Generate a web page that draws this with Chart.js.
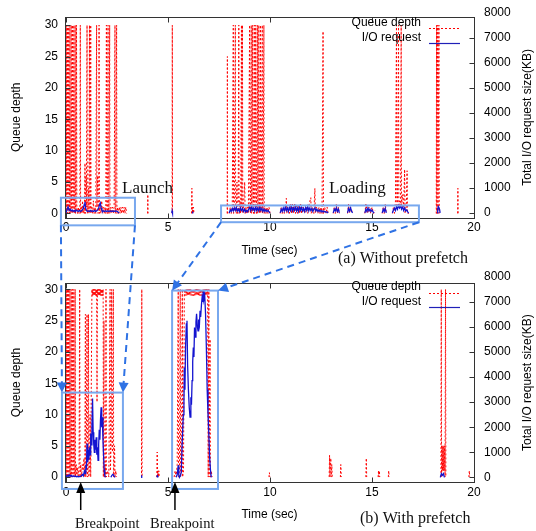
<!DOCTYPE html>
<html><head><meta charset="utf-8">
<script src="https://cdn.jsdelivr.net/npm/chart.js@4.4.1/dist/chart.umd.min.js"></script>
<style>
html,body{margin:0;padding:0;background:#fff;}
#wrap{position:relative;width:536px;height:531px;background:#fff;}
#c1{position:absolute;left:0;top:0;}
#c2{position:absolute;left:0;top:266px;}
#ov{position:absolute;left:0;top:0;pointer-events:none;}
</style></head><body>
<div id="wrap">
<canvas id="c1" width="536" height="266"></canvas>
<canvas id="c2" width="536" height="265"></canvas>
<canvas id="ov" width="536" height="531"></canvas>
</div>
<script>
// ---------- tick labels ----------
const timeTicks = [0, 5, 10, 15, 20];
const depthTicks = [0, 5, 10, 15, 20, 25, 30];
const sizeTicks = [0, 1000, 2000, 3000, 4000, 5000, 6000, 7000, 8000];
const seriesNames = ['Queue depth', 'I/O request'];

// ---------- (a) Without prefetch : [time(sec), queue depth] ----------
const queueDepthA = [
 [0.000,0],[0.015,30],[0.030,1],[0.055,0],[0.070,30],[0.085,0],[0.110,1],[0.130,30],[0.145,1],[0.170,0],[0.190,30],[0.205,0],[0.230,1],[0.255,30],[0.270,1],[0.295,0],[0.320,30],[0.335,0],[0.360,1],[0.385,30],[0.400,1],[0.425,0],[0.450,30],[0.465,0],[0.490,1],[0.515,30],[0.530,1],[0.56,0],[0.60,1],[0.64,0],[0.68,1],[0.700,30],[0.715,0],[0.75,1],[0.78,0],[0.81,2],[0.84,0],[0.87,1],[0.90,0],[0.93,8],[0.95,0],[0.98,6],[1.00,1],[1.030,30],[1.045,0],[1.07,1],[1.10,4],[1.12,0],[1.150,30],[1.165,1],[1.19,0],[1.210,30],[1.225,0],[1.26,1],[1.30,0],[1.34,2],[1.38,0],[1.42,1],[1.46,0],[1.500,30],[1.515,1],[1.55,6],[1.57,0],[1.60,1],[1.620,30],[1.635,0],[1.67,1],[1.71,0],[1.75,2],[1.79,0],[1.83,1],[1.87,0],[1.91,1],[1.95,0],[1.980,30],[1.995,1],[2.03,0],[2.060,30],[2.075,1],[2.10,0],[2.140,30],[2.155,0],[2.20,1],[2.24,0],[2.28,1],[2.32,0],[2.36,1],[2.400,30],[2.415,0],[2.44,1],[2.480,30],[2.495,0],[2.53,1],[2.57,0],[2.61,1],[2.65,0],[2.69,1],[2.73,0],[2.77,1],[2.81,0],[2.85,1],[2.89,0],[2.93,1],[2.97,0],[2.98,null],
 [4.00,0],[4.01,3],[4.02,0],[4.03,null],
 [5.20,0],[5.21,30],[5.22,0],[5.23,null],
 [6.15,0],[6.17,4],[6.19,0],[6.21,1],[6.23,0],[6.25,1],[6.27,0],[6.28,null],
 [7.90,0],[7.91,25],[7.92,0],[7.93,null],
 [8.00,0],[8.05,1],[8.10,0],[8.15,1],[8.200,30],[8.215,0],[8.25,1],[8.300,30],[8.315,1],[8.35,0],[8.38,5],[8.40,0],[8.44,1],[8.470,30],[8.485,0],[8.52,2],[8.56,0],[8.600,30],[8.615,1],[8.650,30],[8.665,0],[8.70,1],[8.76,5],[8.78,0],[8.82,1],[8.86,0],[8.90,1],[8.94,0],[9.000,30],[9.015,1],[9.04,0],[9.080,30],[9.095,0],[9.12,1],[9.150,30],[9.165,1],[9.19,0],[9.230,30],[9.245,0],[9.27,1],[9.300,30],[9.315,1],[9.34,0],[9.380,30],[9.395,0],[9.42,1],[9.450,30],[9.465,1],[9.49,0],[9.530,30],[9.545,0],[9.57,1],[9.620,30],[9.635,0],[9.66,1],[9.700,30],[9.715,0],[9.75,1],[9.80,0],[9.85,1],[9.90,0],[9.95,1],[10.00,0],[10.01,null],
 [10.50,0],[10.55,1],[10.60,0],[10.65,1],[10.70,0],[10.78,1],[10.80,2.4],[10.82,0],[10.88,1],[10.95,0],[11.00,1.5],[11.05,0],[11.10,1.5],[11.15,0],[11.20,1.5],[11.25,0],[11.30,1.5],[11.35,0],[11.40,1.2],[11.45,0],[11.50,1.5],[11.55,0],[11.62,1],[11.70,0],[11.78,1],[11.85,0],[11.92,1.5],[12.00,2.5],[12.02,0],[12.08,1],[12.15,0],[12.20,4],[12.22,0],[12.28,1],[12.35,0],[12.40,1],[12.45,0],[12.50,1],[12.55,0],[12.60,29],[12.62,0],[12.68,1],[12.75,0],[12.80,1],[12.85,0],[12.86,null],
 [13.10,0],[13.15,1],[13.20,0],[13.25,1.5],[13.30,0],[13.35,1],[13.40,0],[13.41,null],
 [13.80,0],[13.85,1.5],[13.90,0],[13.95,1],[14.05,0],[14.06,null],
 [14.65,0],[14.70,1.5],[14.78,0],[14.85,1],[14.92,0],[15.00,1],[15.08,0],[15.15,0.5],[15.16,null],
 [15.50,0],[15.55,1],[15.60,0],[15.65,1.5],[15.70,0],[15.71,null],
 [16.00,0],[16.05,1],[16.10,0],[16.15,2],[16.200,30],[16.215,1],[16.25,2],[16.300,30],[16.315,1],[16.35,2],[16.40,1],[16.430,30],[16.445,1],[16.50,3],[16.55,1],[16.60,7],[16.62,0],[16.68,1],[16.72,6.8],[16.74,0],[16.80,0],[16.81,null],
 [18.150,0],[18.165,30],[18.180,0],[18.220,30],[18.235,0],[18.280,30],[18.295,0],[18.30,null],
 [19.20,0],[19.21,4],[19.22,0]
];
// (a) Without prefetch : [time(sec), total I/O request size (KB)]
const ioSizeA = [
 [0.00,0],[0.05,150],[0.10,250],[0.15,100],[0.20,150],[0.25,80],[0.30,120],[0.35,60],[0.40,100],[0.45,50],[0.50,120],[0.55,80],[0.60,60],[0.65,100],[0.70,60],[0.75,80],[0.80,120],[0.85,200],[0.90,350],[0.93,450],[0.96,200],[1.00,100],[1.05,60],[1.10,80],[1.15,60],[1.20,100],[1.25,60],[1.30,80],[1.35,60],[1.40,100],[1.45,60],[1.50,80],[1.55,120],[1.60,200],[1.65,350],[1.68,400],[1.72,200],[1.76,100],[1.80,60],[1.85,80],[1.90,60],[1.95,80],[2.00,60],[2.05,80],[2.10,60],[2.15,80],[2.20,60],[2.25,80],[2.30,60],[2.35,80],[2.40,60],[2.45,80],[2.50,60],[2.55,40],[2.60,0],[2.61,null],
 [5.18,0],[5.20,80],[5.22,0],[5.23,null],
 [6.18,0],[6.20,60],[6.22,0],[6.23,null],
 [8.00,0],[8.05,120],[8.10,60],[8.15,180],[8.20,80],[8.25,200],[8.30,100],[8.35,220],[8.40,80],[8.45,160],[8.50,60],[8.55,200],[8.60,100],[8.65,180],[8.70,60],[8.75,150],[8.80,40],[8.85,100],[8.90,40],[8.95,150],[9.00,220],[9.05,100],[9.10,250],[9.15,120],[9.20,200],[9.25,80],[9.30,240],[9.35,100],[9.40,200],[9.45,80],[9.50,220],[9.55,100],[9.60,180],[9.65,60],[9.70,150],[9.75,60],[9.80,120],[9.85,50],[9.90,100],[9.95,40],[10.00,0],[10.01,null],
 [10.50,0],[10.55,150],[10.60,60],[10.65,200],[10.70,80],[10.75,250],[10.80,100],[10.85,200],[10.90,60],[10.95,220],[11.00,100],[11.05,250],[11.10,80],[11.15,200],[11.20,100],[11.25,260],[11.30,80],[11.35,200],[11.40,60],[11.45,240],[11.50,100],[11.55,220],[11.60,80],[11.65,180],[11.70,60],[11.75,220],[11.80,100],[11.85,250],[11.90,80],[11.95,200],[12.00,100],[12.05,180],[12.10,60],[12.15,150],[12.20,200],[12.25,80],[12.30,150],[12.35,60],[12.40,120],[12.45,50],[12.50,100],[12.55,40],[12.60,80],[12.65,40],[12.70,60],[12.75,30],[12.80,40],[12.85,0],[12.86,null],
 [13.10,0],[13.15,150],[13.20,80],[13.25,200],[13.30,60],[13.35,150],[13.40,0],[13.41,null],
 [13.80,0],[13.85,180],[13.90,80],[13.95,200],[14.00,60],[14.05,0],[14.06,null],
 [14.65,0],[14.70,150],[14.75,60],[14.80,200],[14.85,80],[14.90,150],[14.95,60],[15.00,120],[15.05,40],[15.10,0],[15.11,null],
 [15.50,0],[15.55,150],[15.60,60],[15.65,180],[15.70,0],[15.71,null],
 [16.00,0],[16.05,120],[16.10,200],[16.15,100],[16.20,250],[16.25,150],[16.30,300],[16.35,200],[16.40,280],[16.45,150],[16.50,250],[16.55,100],[16.60,200],[16.65,80],[16.70,120],[16.75,40],[16.80,0],[16.81,null],
 [18.20,0],[18.22,150],[18.25,250],[18.28,200],[18.31,150],[18.34,0]
];

// ---------- (b) With prefetch : [time(sec), queue depth] ----------
const queueDepthB = [
 [0.000,0],[0.015,30],[0.030,0],[0.055,1],[0.070,30],[0.085,0],[0.110,1],[0.130,30],[0.145,0],[0.170,1],[0.190,30],[0.205,0],[0.230,1],[0.255,30],[0.270,0],[0.295,1],[0.320,30],[0.335,0],[0.360,1],[0.385,30],[0.400,0],[0.425,1],[0.450,30],[0.465,0],[0.50,2],[0.53,0],[0.56,1.5],[0.60,0],[0.64,2],[0.670,30],[0.685,0],[0.72,2],[0.76,0],[0.80,2],[0.84,1],[0.88,3],[0.92,0],[0.950,26],[0.965,0],[0.99,1],[1.030,26],[1.045,0],[1.07,1],[1.100,26],[1.115,0],[1.15,1],[1.18,10],[1.21,0],[1.270,30],[1.29,29],[1.31,30],[1.33,29],[1.35,30],[1.37,29],[1.39,30],[1.41,29],[1.43,30],[1.45,29],[1.47,30],[1.49,29],[1.50,30],[1.52,12],[1.54,30],[1.56,29],[1.58,30],[1.60,29],[1.62,30],[1.64,29],[1.66,30],[1.68,29],[1.70,30],[1.72,29],[1.74,30],[1.76,29],[1.78,30],[1.80,29],[1.82,30],[1.83,0],[1.86,25],[1.88,0],[1.92,2],[1.94,0],[1.960,30],[1.975,0],[2.04,1],[2.10,0],[2.160,30],[2.175,1],[2.20,4],[2.240,30],[2.255,5],[2.28,4],[2.320,30],[2.335,0],[2.38,5],[2.40,0],[2.44,1],[2.48,0],[2.49,null],
 [3.70,0],[3.715,30],[3.73,0],[3.74,null],
 [4.45,0],[4.47,4],[4.49,0],[4.51,1],[4.53,0],[4.55,1],[4.57,0],[4.58,null],
 [5.30,0],[5.35,1],[5.40,0],[5.45,2],[5.500,30],[5.515,0],[5.56,1],[5.600,30],[5.615,0],[5.66,1],[5.700,30],[5.715,0],[5.76,1],[5.800,30],[5.83,29],[5.86,30],[5.89,29],[5.92,30],[5.95,29],[5.98,30],[6.01,29],[6.04,30],[6.07,29],[6.10,30],[6.13,29],[6.16,30],[6.19,29],[6.22,30],[6.25,29],[6.28,30],[6.31,29],[6.34,30],[6.37,29],[6.40,30],[6.43,29],[6.46,30],[6.49,29],[6.52,30],[6.55,29],[6.58,30],[6.61,29],[6.64,30],[6.67,29],[6.70,30],[6.73,29],[6.76,30],[6.79,29],[6.82,30],[6.85,29],[6.88,30],[6.91,29],[6.94,30],[6.97,0],[7.000,30],[7.015,0],[7.06,22],[7.08,0],[7.12,1],[7.16,0],[7.17,null],
 [7.43,0],[7.45,2],[7.47,0],[7.48,null],
 [9.95,0],[9.97,0.7],[9.99,0],[10.00,null],
 [12.90,0],[12.92,3.5],[12.94,0],[12.98,3],[13.00,0],[13.03,2],[13.05,0],[13.06,null],
 [13.45,0],[13.47,2],[13.49,0],[13.50,null],
 [14.70,0],[14.72,3],[14.74,0],[14.75,null],
 [15.30,0],[15.32,1],[15.34,0],[15.36,1],[15.38,0],[15.39,null],
 [15.80,0],[15.82,1],[15.84,0],[15.85,null],
 [18.38,0],[18.395,30],[18.41,0],[18.44,5],[18.46,1],[18.48,5],[18.50,1],[18.52,5],[18.54,1],[18.56,5],[18.58,0],[18.605,30],[18.62,0],[18.63,null],
 [19.75,0],[19.77,1],[19.79,0]
];
// (b) With prefetch : [time(sec), total I/O request size (KB)]
const ioSizeB = [
 [0.00,0],[0.05,80],[0.10,30],[0.15,100],[0.20,40],[0.25,80],[0.30,30],[0.35,60],[0.40,30],[0.45,50],[0.50,20],[0.55,40],[0.60,20],[0.65,40],[0.70,30],[0.75,60],[0.80,120],[0.85,60],[0.90,250],[0.94,150],[0.97,500],[1.00,300],[1.03,1350],[1.06,600],[1.09,1100],[1.12,700],[1.15,1200],[1.18,900],[1.21,1750],[1.24,1300],[1.27,2000],[1.30,3150],[1.33,1800],[1.36,1300],[1.39,1000],[1.42,1500],[1.45,1100],[1.48,1600],[1.51,900],[1.54,1200],[1.57,680],[1.60,1300],[1.63,1900],[1.66,1500],[1.69,2300],[1.72,2800],[1.75,2000],[1.78,2400],[1.81,1500],[1.84,900],[1.87,300],[1.90,80],[1.93,0],[1.94,null],
 [2.20,0],[2.25,80],[2.30,120],[2.35,60],[2.40,0],[2.41,null],
 [3.68,0],[3.70,80],[3.72,0],[3.73,null],
 [4.45,0],[4.48,60],[4.52,0],[4.53,null],
 [5.40,0],[5.45,100],[5.50,480],[5.53,100],[5.56,0],[5.60,50],[5.65,200],[5.70,1500],[5.75,2500],[5.78,3000],[5.80,4380],[5.83,3500],[5.86,5200],[5.90,6130],[5.93,6250],[5.96,4500],[6.00,3500],[6.04,2800],[6.08,2400],[6.12,3200],[6.15,2900],[6.18,3860],[6.21,4600],[6.24,5180],[6.27,4800],[6.30,5980],[6.33,5600],[6.37,6200],[6.40,6530],[6.44,6000],[6.47,5850],[6.50,6300],[6.54,6100],[6.57,6650],[6.60,6400],[6.64,6900],[6.67,7170],[6.70,7000],[6.73,7450],[6.76,7100],[6.80,7250],[6.84,6530],[6.88,5180],[6.92,3500],[6.96,2550],[7.00,1750],[7.04,800],[7.08,300],[7.12,0],[7.13,null],
 [18.35,0],[18.40,150],[18.45,80],[18.50,150],[18.55,0]
];

// ---------- layout / style settings (not data) ----------
const FONT = '"Liberation Sans", Arial, sans-serif';
const SERIF = '"Liberation Serif", "Times New Roman", serif';
const panels = [
 {yMin:-0.65, yMax:31.27, y2Min:-183, y2Max:7837, xHeight:48.5, xTitleY:251, leg:[23,28,38,43]},
 {yMin:-0.79, yMax:30.98, y2Min:-187, y2Max:7750, xHeight:49, xTitleY:249, leg:[21,27,36,41]}
];

const decor = {
 id:'panelDecor',
 afterDraw(chart, args, p) {
  const {ctx, chartArea:a, scales} = chart;
  ctx.save();
  ctx.setLineDash([]);
  ctx.strokeStyle = '#333'; ctx.lineWidth = 1;
  const L = Math.round(a.left)+0.5, R = Math.round(a.right)+0.5, T = Math.round(a.top)+0.5, B = Math.round(a.bottom)+0.5;
  ctx.strokeRect(L, T, R-L, B-T);
  ctx.beginPath();
  timeTicks.forEach(v => { const x = Math.round(scales.x.getPixelForValue(v))+0.5; ctx.moveTo(x,B); ctx.lineTo(x,B-5); ctx.moveTo(x,T); ctx.lineTo(x,T+5); });
  depthTicks.forEach(v => { const y = Math.round(scales.y.getPixelForValue(v))+0.5; ctx.moveTo(L,y); ctx.lineTo(L+5,y); });
  sizeTicks.forEach(v => { if (v > scales.y2.max) return; const y = Math.round(scales.y2.getPixelForValue(v))+0.5; ctx.moveTo(R,y); ctx.lineTo(R-5,y); });
  ctx.stroke();
  ctx.fillStyle = '#000'; ctx.font = '12px ' + FONT; ctx.textAlign = 'center'; ctx.textBaseline = 'middle';
  ctx.fillText('Time (sec)', (a.left+a.right)/2, p.xTitleY);
  const cy = (a.top+a.bottom)/2;
  ctx.save(); ctx.translate(17, cy); ctx.rotate(-Math.PI/2); ctx.fillText('Queue depth', 0, 0); ctx.restore();
  ctx.save(); ctx.translate(527.5, cy); ctx.rotate(-Math.PI/2); ctx.fillText('Total I/O request size(KB)', 0, 0); ctx.restore();
  const lg = p.leg;
  ctx.textAlign = 'right';
  ctx.fillText(seriesNames[0], 421, lg[0]);
  ctx.fillText(seriesNames[1], 421, lg[2]);
  ctx.lineWidth = 1; ctx.strokeStyle = '#ff0000'; ctx.setLineDash([2,2]);
  ctx.beginPath(); ctx.moveTo(429, lg[1]+0.5); ctx.lineTo(460, lg[1]+0.5); ctx.stroke();
  ctx.setLineDash([]); ctx.strokeStyle = '#2020b8'; ctx.lineWidth = 1.2;
  ctx.beginPath(); ctx.moveTo(429, lg[3]+0.5); ctx.lineTo(460, lg[3]+0.5); ctx.stroke();
  ctx.restore();
 }
};

function axisTicks(list) { return s => { s.ticks = list.map(v => ({value:v})); }; }
const tickFont = {family: FONT, size: 12};

function makeChart(id, qd, io, p) {
 return new Chart(document.getElementById(id), {
  type: 'line',
  data: { datasets: [
   {label: seriesNames[0], data: qd, yAxisID: 'y', borderColor: '#ff0000', borderWidth: 1, borderDash: [2,2], pointRadius: 0, tension: 0, spanGaps: false, order: 2},
   {label: seriesNames[1], data: io, yAxisID: 'y2', borderColor: '#1414d0', borderWidth: 1.3, pointRadius: 0, tension: 0, spanGaps: false, order: 1}
  ]},
  options: {
   responsive: false, animation: false, events: [],
   layout: {padding: {top: 16, left: 0, right: 0, bottom: 0}},
   plugins: {legend: {display: false}, tooltip: {enabled: false}, panelDecor: p},
   scales: {
    x: {type: 'linear', min: -0.05, max: 20, afterBuildTicks: axisTicks(timeTicks), afterFit: s => { s.height = p.xHeight; },
        grid: {display: false, drawTicks: false}, border: {display: false},
        ticks: {padding: 3, color: '#000', font: tickFont, autoSkip: false, maxRotation: 0, callback: v => String(v)}},
    y: {type: 'linear', position: 'left', min: p.yMin, max: p.yMax, afterBuildTicks: axisTicks(depthTicks), afterFit: s => { s.width = 65; },
        grid: {display: false, drawTicks: false}, border: {display: false},
        ticks: {padding: 7, color: '#000', font: tickFont, autoSkip: false, callback: v => String(v)}},
    y2: {type: 'linear', position: 'right', min: p.y2Min, max: p.y2Max, afterBuildTicks: axisTicks(sizeTicks), afterFit: s => { s.width = 62; },
        grid: {display: false, drawTicks: false}, border: {display: false},
        ticks: {padding: 10, color: '#000', font: tickFont, autoSkip: false, callback: v => String(v)}}
   }
  },
  plugins: [decor]
 });
}

const chartA = makeChart('c1', queueDepthA, ioSizeA, panels[0]);
const chartB = makeChart('c2', queueDepthB, ioSizeB, panels[1]);

// ---------- annotations (data coordinates: time, queue depth) ----------
const boxes = [
 {panel:0, t0:-0.25, t1:3.38, q0:-1.9, q1:2.5},
 {panel:0, t0:7.6,  t1:17.3, q0:-1.4, q1:1.27},
 {panel:1, t0:-0.2, t1:2.79, q0:-1.9, q1:13.5},
 {panel:1, t0:5.2,  t1:7.45, q0:-1.9, q1:29.8}
];
const links = [[0,'bl',2,'tl'],[0,'br',2,'tr'],[1,'bl',3,'tl'],[1,'br',3,'tr']];
const breakpoints = [0.72, 5.34];
const labels = [
 {text:'Launch', x:122, y:193, size:17},
 {text:'Loading', x:329, y:192.5, size:17},
 {text:'(a) Without prefetch', x:338, y:263, size:16},
 {text:'(b) With prefetch', x:360, y:523, size:16},
 {text:'Breakpoint', x:75, y:527.5, size:14.5},
 {text:'Breakpoint', x:150, y:527.5, size:14.5}
];

const charts = [chartA, chartB], offY = [0, 266];
function px(panel, t, q) { const c = charts[panel]; return [c.scales.x.getPixelForValue(t), c.scales.y.getPixelForValue(q) + offY[panel]]; }
function corner(b, k) {
 const t = k[1] === 'l' ? b.t0 : b.t1, q = k[0] === 'b' ? b.q0 : b.q1;
 return px(b.panel, t, q);
}
function arrowHead(ctx, x0, y0, x1, y1, len, hw) {
 const ang = Math.atan2(y1-y0, x1-x0);
 ctx.beginPath();
 ctx.moveTo(x1, y1);
 ctx.lineTo(x1 - len*Math.cos(ang) + hw*Math.sin(ang), y1 - len*Math.sin(ang) - hw*Math.cos(ang));
 ctx.lineTo(x1 - len*Math.cos(ang) - hw*Math.sin(ang), y1 - len*Math.sin(ang) + hw*Math.cos(ang));
 ctx.closePath(); ctx.fill();
}
const ov = document.getElementById('ov').getContext('2d');
ov.lineWidth = 2; ov.strokeStyle = '#78a8ee';
boxes.forEach(b => {
 const [x0,y0] = px(b.panel, b.t0, b.q1), [x1,y1] = px(b.panel, b.t1, b.q0);
 ov.strokeRect(x0, y0, x1-x0, y1-y0);
});
ov.strokeStyle = '#2f72e4'; ov.fillStyle = '#2f72e4'; ov.lineWidth = 2;
links.forEach(([a, ka, b, kb]) => {
 const [x0,y0] = corner(boxes[a], ka), [x1,y1] = corner(boxes[b], kb);
 const d = Math.hypot(x1-x0, y1-y0), ux = (x1-x0)/d, uy = (y1-y0)/d;
 ov.setLineDash([7,5]);
 ov.beginPath(); ov.moveTo(x0, y0); ov.lineTo(x1 - ux*9, y1 - uy*9); ov.stroke();
 ov.setLineDash([]);
 arrowHead(ov, x0, y0, x1, y1, 10, 5);
});
ov.strokeStyle = '#000'; ov.fillStyle = '#000'; ov.lineWidth = 1.5;
breakpoints.forEach(t => {
 const [x, y] = px(1, t, chartB.scales.y.min);
 ov.beginPath(); ov.moveTo(x, 510); ov.lineTo(x, y + 9); ov.stroke();
 arrowHead(ov, x, 510, x, y, 11, 4.5);
});
ov.fillStyle = '#111'; ov.textAlign = 'left'; ov.textBaseline = 'alphabetic';
labels.forEach(l => { ov.font = l.size + 'px ' + SERIF; ov.fillText(l.text, l.x, l.y); });
</script>
</body></html>
